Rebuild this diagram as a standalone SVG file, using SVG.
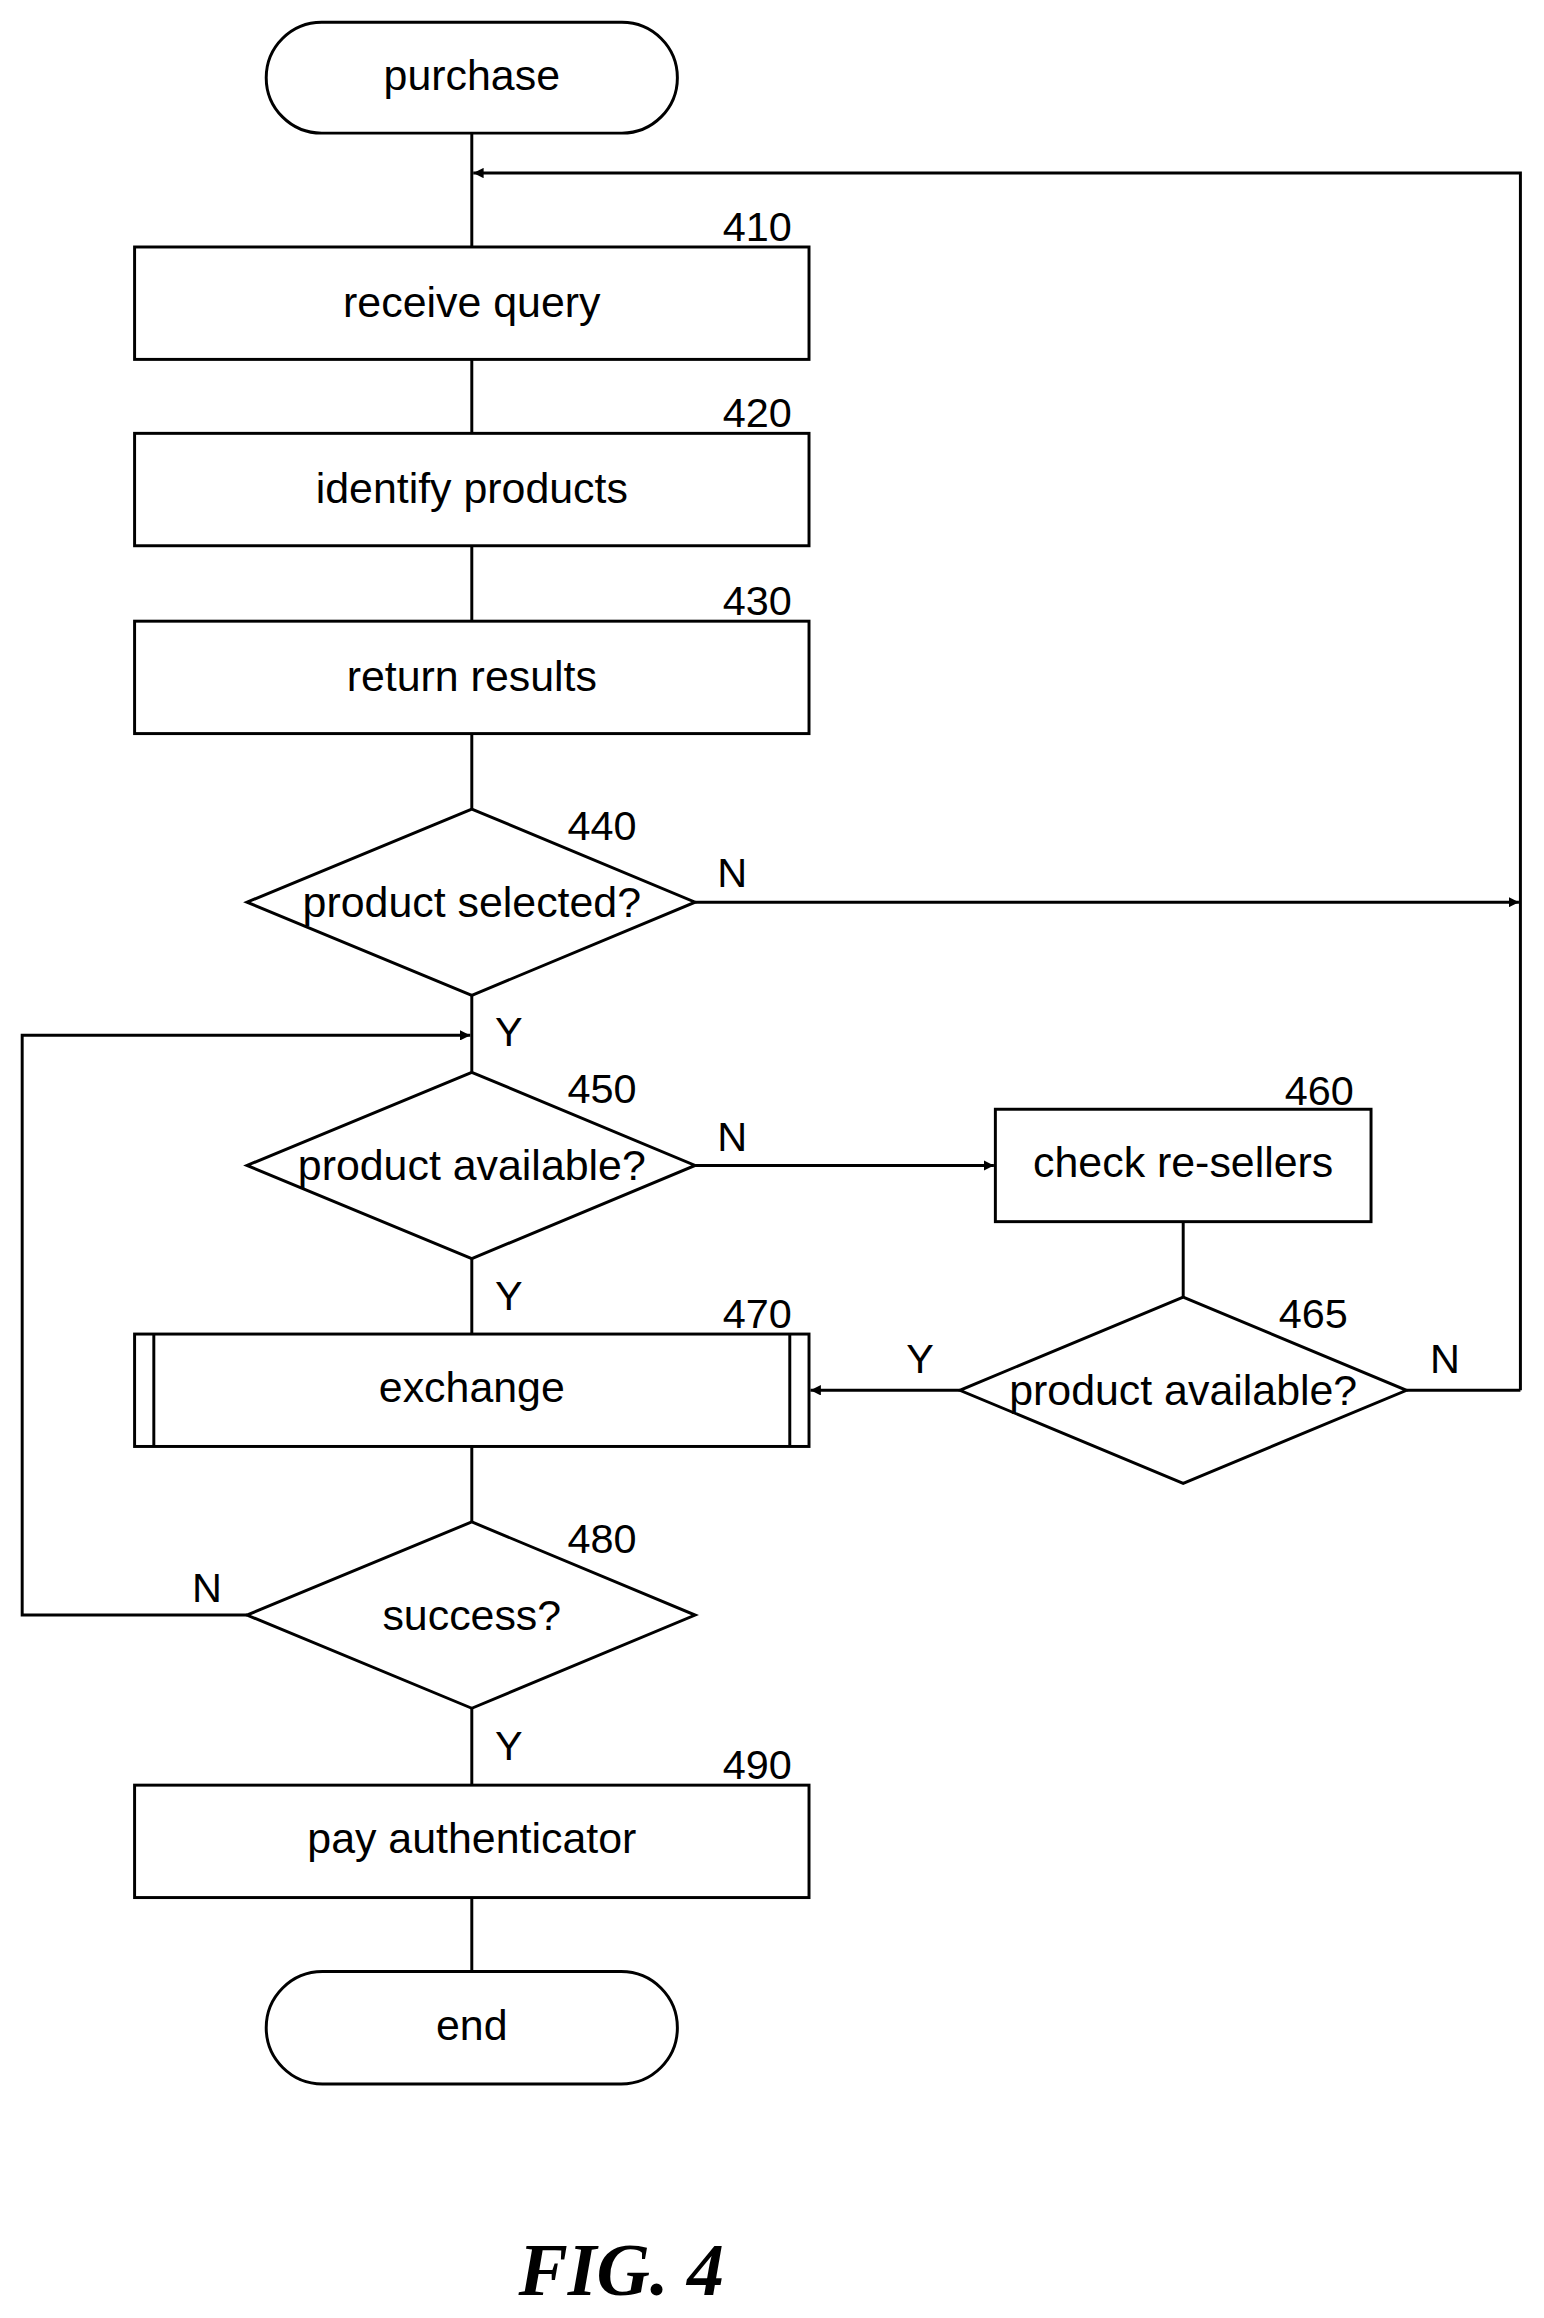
<svg xmlns="http://www.w3.org/2000/svg" width="1544" height="2318" viewBox="0 0 1544 2318">
<defs>
<marker id="ah" viewBox="0 0 10 10" refX="10" refY="5" markerWidth="7" markerHeight="7" orient="auto" markerUnits="userSpaceOnUse"><path d="M0,0 L10,5 L0,10 z" fill="#000"/></marker>
<style>
.s{fill:#fff;stroke:#000;stroke-width:2}
.c{fill:none;stroke:#000;stroke-width:2}
.t{font-family:"Liberation Sans Narrow","Liberation Sans",Arial,sans-serif;font-size:29px;text-anchor:middle;fill:#000}
.l{font-family:"Liberation Sans Narrow","Liberation Sans",Arial,sans-serif;font-size:28px;text-anchor:middle;fill:#000}
</style>
</defs>
<rect width="1544" height="2318" fill="#fff"/>
<g transform="scale(1.479)">
<g id="connectors">
<path class="c" d="M319,90 V167 M319,243 V293 M319,369 V420 M319,496 V547 M319,673 V725 M319,851 V902 M319,978 V1029 M319,1155 V1207 M319,1283 V1333 M800,826 V877"/>
<path class="c" d="M1028,940 V117 H320" marker-end="url(#ah)"/>
<path class="c" d="M470,610 H1027" marker-end="url(#ah)"/>
<path class="c" d="M470,788 H672" marker-end="url(#ah)"/>
<path class="c" d="M649,940 H548" marker-end="url(#ah)"/>
<path class="c" d="M951,940 H1028"/>
<path class="c" d="M167,1092 H15 V700 H318" marker-end="url(#ah)"/>
<text class="l" x="495" y="600">N</text>
<text class="l" x="344" y="707">Y</text>
<text class="l" x="495" y="778">N</text>
<text class="l" x="344" y="886">Y</text>
<text class="l" x="622" y="928">Y</text>
<text class="l" x="977" y="928">N</text>
<text class="l" x="140" y="1083">N</text>
<text class="l" x="344" y="1190">Y</text>
</g>
<g id="purchase"><rect class="s" x="180" y="15" width="278" height="75" rx="37.5"/><text class="t" x="319" y="61">purchase</text></g>
<g id="n410"><rect class="s" x="91" y="167" width="456" height="76"/><text class="t" x="319" y="214">receive query</text><text class="l" x="512" y="163">410</text></g>
<g id="n420"><rect class="s" x="91" y="293" width="456" height="76"/><text class="t" x="319" y="340">identify products</text><text class="l" x="512" y="289">420</text></g>
<g id="n430"><rect class="s" x="91" y="420" width="456" height="76"/><text class="t" x="319" y="467">return results</text><text class="l" x="512" y="416">430</text></g>
<g id="n440"><polygon class="s" points="319,547 470,610 319,673 167,610"/><text class="t" x="319" y="620">product selected?</text><text class="l" x="407" y="568">440</text></g>
<g id="n450"><polygon class="s" points="319,725 470,788 319,851 167,788"/><text class="t" x="319" y="798">product available?</text><text class="l" x="407" y="746">450</text></g>
<g id="n460"><rect class="s" x="673" y="750" width="254" height="76"/><text class="t" x="800" y="796">check re-sellers</text><text class="l" x="892" y="747">460</text></g>
<g id="n465"><polygon class="s" points="800,877 951,940 800,1003 649,940"/><text class="t" x="800" y="950">product available?</text><text class="l" x="888" y="898">465</text></g>
<g id="n470"><rect class="s" x="91" y="902" width="456" height="76"/><path class="c" d="M104,902 V978 M534,902 V978"/><text class="t" x="319" y="948">exchange</text><text class="l" x="512" y="898">470</text></g>
<g id="n480"><polygon class="s" points="319,1029 470,1092 319,1155 167,1092"/><text class="t" x="319" y="1102">success?</text><text class="l" x="407" y="1050">480</text></g>
<g id="n490"><rect class="s" x="91" y="1207" width="456" height="76"/><text class="t" x="319" y="1253">pay authenticator</text><text class="l" x="512" y="1203">490</text></g>
<g id="end"><rect class="s" x="180" y="1333" width="278" height="76" rx="38"/><text class="t" x="319" y="1379">end</text></g>
<text x="420" y="1552" font-family="Liberation Serif,serif" font-weight="bold" font-style="italic" font-size="50" text-anchor="middle">FIG. 4</text>
</g>
</svg>
